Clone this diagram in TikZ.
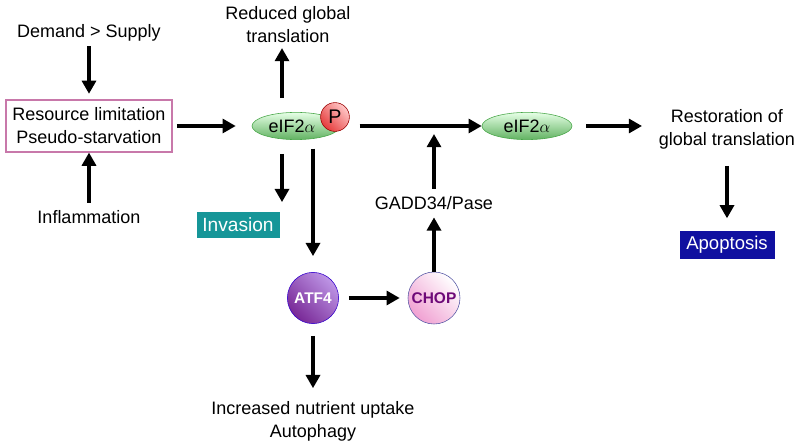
\documentclass[tikz,border=0pt]{standalone}
\usepackage{fontspec}
\setmainfont{Liberation Sans}
\usepackage{tikz}
\usetikzlibrary{positioning,shapes.geometric}
\usetikzlibrary{arrows.meta}

\newcommand{\figfont}{\fontsize{12.8}{16.3}\selectfont}
\definecolor{boxpink}{RGB}{200,120,170}
\definecolor{invteal}{RGB}{22,150,152}
\definecolor{apopblue}{RGB}{16,16,160}
\definecolor{leafgreen}{RGB}{70,165,70}
\definecolor{chopurple}{RGB}{110,10,120}
\definecolor{atflight}{RGB}{190,150,230}
\definecolor{atfdark}{RGB}{120,40,150}
\definecolor{chopink}{RGB}{240,160,210}
\definecolor{phoslight}{RGB}{255,200,200}
\definecolor{phosred}{RGB}{230,60,60}

\begin{document}
\begin{tikzpicture}[node distance=2cm,on grid,font=\figfont,
	arr/.style={line width=2.3pt,-{Triangle[length=3.3mm,width=3.5mm]}},
	eifnode/.style={ellipse,draw=leafgreen,thin,top color=green!10,bottom color=leafgreen!85,
		minimum width=2.2cm,minimum height=0.68cm,inner sep=0pt},
	txt/.style={align=center}]
	\useasboundingbox (0,0) rectangle (20,-11.175);
	\node[draw=boxpink,thick,minimum width=4.15cm,minimum height=1.3cm,align=center] (res) at (2.225,-3.15) {Resource limitation\\Pseudo-starvation};
	\node[txt] (demand) [above=2.325cm of res] {Demand > Supply};
	\node[txt] (inflam) [below=2.275cm of res] {Inflammation};
	\node[eifnode] (eif) [right=5.175cm of res] {eIF2$\alpha$\hspace*{2mm}};
	\node[circle,draw=red!60!black,thin,left color=phoslight,right color=phosred,shading angle=-45,
		minimum size=0.72cm,inner sep=0pt,font=\fontsize{14}{16}\selectfont]
		(phos) [above right=0.225cm and 0.975cm of eif] {P};
	\node[txt] (reduced) [above left=2.525cm and 0.2cm of eif] {Reduced global\\translation};
	\node[fill=invteal,text=white,minimum width=2.075cm,minimum height=0.63cm,inner sep=0pt,font=\fontsize{13.6}{16}\selectfont]
		(inv) [below left=2.475cm and 1.45cm of eif] {Invasion};
	\node[circle,draw=blue!60!violet,thin,left color=atflight,right color=atfdark,shading angle=-45,
		minimum size=1.28cm,inner sep=0pt,text=white,font=\fontsize{11}{13}\selectfont\bfseries]
		(atf) [below right=4.3cm and 0.425cm of eif] {ATF4};
	\node[circle,draw=gray!70!blue,thin,left color=white,right color=chopink,shading angle=-45,
		minimum size=1.3cm,inner sep=0pt,text=chopurple,font=\fontsize{11}{13}\selectfont\bfseries]
		(chop) [right=3.025cm of atf] {CHOP};
	\node[txt] (gadd) [above=2.375cm of chop] {GADD34/Pase};
	\node[eifnode,minimum width=2.25cm] (eiftwo) [right=5.775cm of eif] {eIF2$\alpha$};
	\node[txt] (rest) [below right=0.075cm and 5cm of eiftwo] {Restoration of\\global translation};
	\node[fill=apopblue,text=white,minimum width=2.375cm,minimum height=0.72cm,inner sep=0pt,font=\fontsize{13.2}{16}\selectfont]
		(apop) [below=2.9cm of rest] {Apoptosis};
	\node[txt] (uptake) [below=3.075cm of atf] {Increased nutrient uptake\\Autophagy};
	\coordinate (join) at (gadd |- eif);

	\draw[arr,shorten >=4pt] (demand) -- (res);
	\draw[arr,shorten <=2pt] (inflam) -- (res);
	\draw[arr,shorten <=3pt,shorten >=0.4cm] (res) -- (eif);
	\draw[arr,shorten <=0.35cm] ([xshift=-3.5mm]eif.north) -- ([xshift=-3.5mm]eif.north |- reduced.south);
	\draw[arr,shorten <=0.35cm,shorten >=0.25cm] ([xshift=-3.5mm]eif.south) -- ([xshift=-3.5mm]eif.south |- inv.north);
	\draw[arr,shorten <=0.22cm,shorten >=0.4cm] (atf |- eif.south) -- (atf);
	\draw[arr,shorten <=0.25cm] (phos.east |- eif) -- (eiftwo);
	\draw[arr,shorten <=0.25cm,shorten >=0.2cm] (atf) -- (chop);
	\draw[arr,shorten >=2pt] (chop) -- (gadd);
	\draw[arr,shorten <=2pt,shorten >=0.2cm] (gadd) -- (join);
	\draw[arr,shorten <=0.35cm,shorten >=0.3cm] (eiftwo) -- (eiftwo -| rest.west);
	\draw[arr,shorten <=0.3cm,shorten >=0.3cm] (rest) -- (rest |- apop.north);
	\draw[arr,shorten <=0.3cm,shorten >=0.2cm] (atf) -- (uptake);
\end{tikzpicture}
\end{document}
